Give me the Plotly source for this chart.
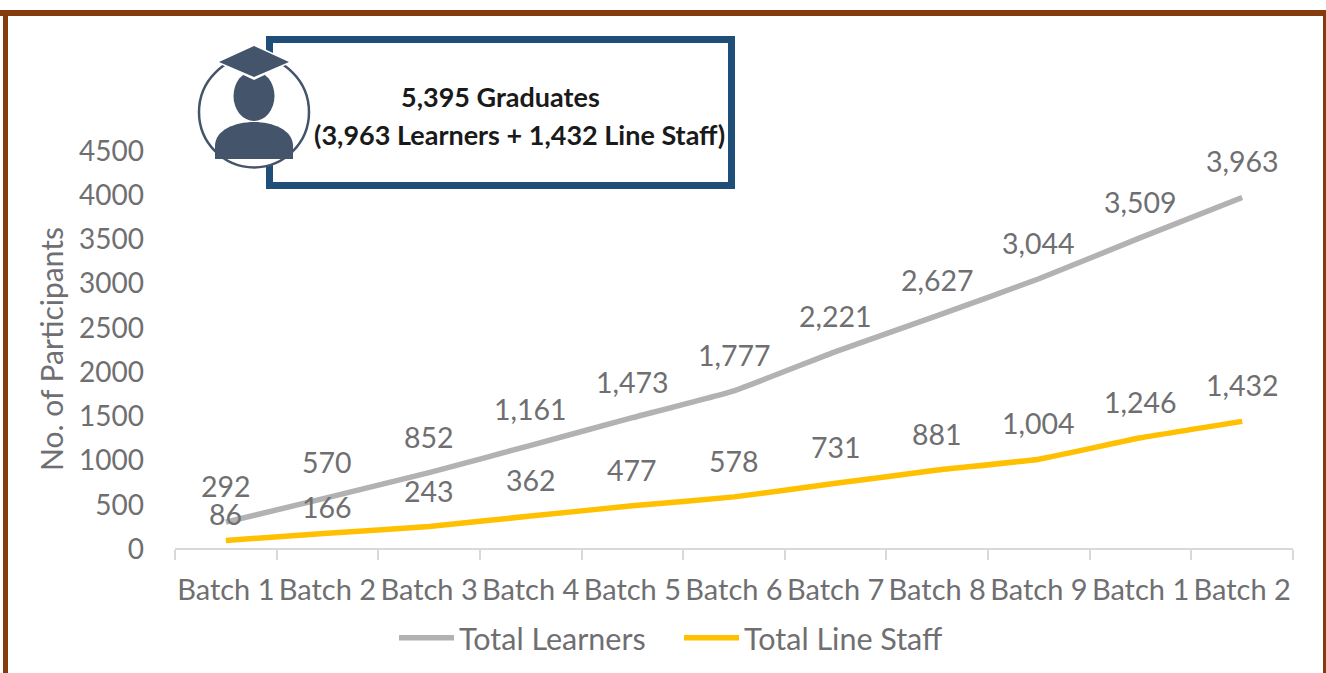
import plotly.graph_objects as go

categories = ["Batch 1", "Batch 2", "Batch 3", "Batch 4", "Batch 5", "Batch 6",
              "Batch 7", "Batch 8", "Batch 9", "Batch 1", "Batch 2"]
learners = [292, 570, 852, 1161, 1473, 1777, 2221, 2627, 3044, 3509, 3963]
line_staff = [86, 166, 243, 362, 477, 578, 731, 881, 1004, 1246, 1432]
y_ticks = [0, 500, 1000, 1500, 2000, 2500, 3000, 3500, 4000, 4500]

W, H = 1326, 673
L, R, T, B = 175, 33, 150, 125
FONT = "Lato"
GREY = "#6F6F72"
BROWN = "#843C0C"
NAVY = "#1F4E79"
SLATE = "#44546A"

PW, PH = W - L - R, H - T - B
def px(x): return (x - L) / PW
def py(y): return (H - B - y) / PH

xs = list(range(len(categories)))

fig = go.Figure()
for name, vals, col in [("Total Learners", learners, "#B2B2B2"),
                        ("Total Line Staff", line_staff, "#FFC000")]:
    fig.add_trace(go.Scatter(x=xs, y=vals, mode="lines", name=name,
                             line=dict(color=col, width=5.5, shape="spline", smoothing=0.3),
                             cliponaxis=False))

anns = []
for i, (x, v) in enumerate(zip(xs, learners)):
    anns.append(dict(x=x, y=v, xref="x", yref="y", text=f"{v:,}", showarrow=False,
                     yshift=36, font=dict(family=FONT, size=28.5, color=GREY)))
for i, (x, v) in enumerate(zip(xs, line_staff)):
    anns.append(dict(x=x, y=v, xref="x", yref="y", text=f"{v:,}", showarrow=False,
                     yshift=26 if i < 2 else 36, font=dict(family=FONT, size=28.5, color=GREY)))
for text, cx, cy in [("5,395 Graduates", 500, 97),
                     ("(3,963 Learners + 1,432 Line Staff)", 519, 134.5)]:
    anns.append(dict(x=px(cx), y=py(cy), xref="paper", yref="paper", text=f"<b>{text}</b>",
                     xanchor="center", yanchor="middle",
                     showarrow=False, font=dict(family=FONT, size=27, color="#1A1A1A")))

def rect(x0, y0, x1, y1, **kw):
    return dict(type="rect", xref="paper", yref="paper", x0=px(x0), y0=py(y0),
                x1=px(x1), y1=py(y1), layer="above", **kw)
def solid(x0, y0, x1, y1, col):
    return rect(x0, y0, x1, y1, fillcolor=col, line=dict(width=0))
def poly(pts, col):
    d = "M" + " L".join(f"{px(a):.5f},{py(b):.5f}" for a, b in pts) + " Z"
    return dict(type="path", xref="paper", yref="paper", path=d, fillcolor=col,
                line=dict(width=0), layer="above")
def oval(cx, cy, rx, ry, **kw):
    return dict(type="circle", xref="paper", yref="paper", x0=px(cx - rx), x1=px(cx + rx),
                y0=py(cy + ry), y1=py(cy - ry), layer="above", **kw)
def shoulders(col):
    p = lambda a, b: f"{px(a):.5f},{py(b):.5f}"
    d = (f"M{p(215, 159)} L{p(215, 146)} C{p(215, 130)} {p(235, 122)} {p(254, 122)} "
         f"C{p(273, 122)} {p(293, 130)} {p(293, 146)} L{p(293, 159)} Z")
    return dict(type="path", xref="paper", yref="paper", path=d, fillcolor=col,
                line=dict(width=0), layer="above")

shapes = [
    # outer brown frame
    solid(0, 10, W, 16, BROWN),
    solid(3, 10, 8, H, BROWN),
    solid(1323, 10, W, H, BROWN),
    # callout box
    rect(269.5, 39.5, 731.5, 185.5, fillcolor="white", line=dict(color=NAVY, width=7)),
    # graduate icon
    oval(254, 112, 55, 55.5, fillcolor="white", line=dict(color=SLATE, width=2.5)),
    oval(254, 96, 20.5, 25, fillcolor=SLATE, line=dict(width=0)),
    shoulders(SLATE),
    poly([(254, 44), (292, 62), (254, 80), (216, 62)], "white"),
    poly([(254, 46), (289, 62), (254, 77), (219, 62)], SLATE),
]

fig.update_layout(
    width=W, height=H, autosize=False,
    margin=dict(l=L, r=R, t=T, b=B, autoexpand=False),
    paper_bgcolor="white", plot_bgcolor="white",
    font=dict(family=FONT, size=28, color=GREY),
    shapes=shapes, annotations=anns,
    showlegend=True,
    legend=dict(orientation="h", xref="container", yref="container",
                x=394 / W, xanchor="left", y=1 - 638 / H, yanchor="middle",
                itemwidth=55, entrywidth=215, entrywidthmode="pixels",
                font=dict(family=FONT, size=30.5, color=GREY),
                bgcolor="rgba(0,0,0,0)"),
    xaxis=dict(range=[-0.5, 10.5], tickmode="array", tickvals=xs, ticktext=categories,
               ticks="", showgrid=False, zeroline=False, showline=True,
               linecolor="#D9D9D9", linewidth=2, ticklabelstandoff=15,
               tickfont=dict(family=FONT, size=29, color=GREY),
               minor=dict(tickmode="array", tickvals=[i - 0.5 for i in range(12)],
                          ticks="outside", ticklen=10, tickcolor="#D9D9D9", tickwidth=2,
                          showgrid=False)),
    yaxis=dict(range=[0, 4500], tickmode="array", tickvals=y_ticks, showgrid=False,
               zeroline=False, showline=False, ticks="", ticklabelstandoff=30,
               ticklabelshift=1,
               tickfont=dict(family=FONT, size=28, color=GREY),
               title=dict(text="No. of Participants", standoff=6,
                          font=dict(family=FONT, size=30, color=GREY))),
)

fig.write_html("out.html", config={"displayModeBar": False},
               post_script="document.body.style.margin='0';document.body.style.overflow='hidden';")
